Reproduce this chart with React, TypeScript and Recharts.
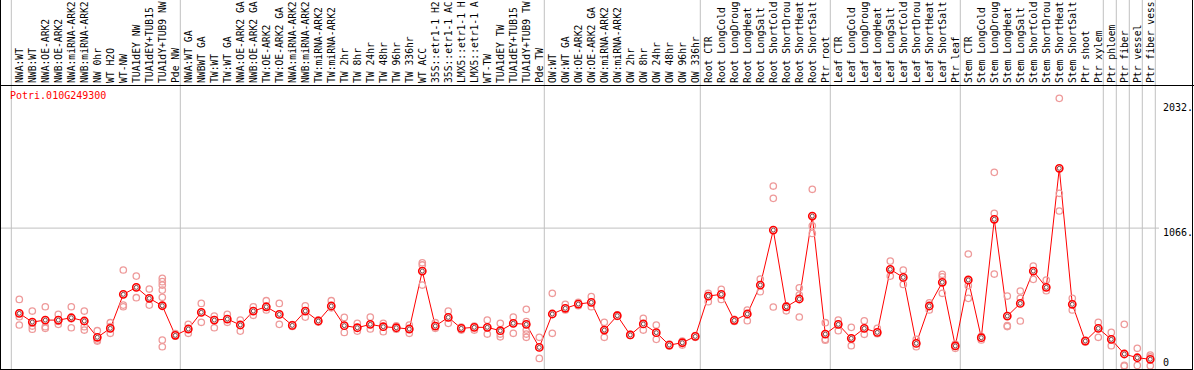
import { ComposedChart, Line, Scatter, XAxis, YAxis, ReferenceLine } from "recharts";

// sample labels, left to right
const categories = [
  "NWA:WT", "NWB:WT", "NWA:OE-ARK2", "NWB:OE-ARK2", "NWA:miRNA-ARK2", "NWB:miRNA-ARK2",
  "NW 0hr", "WT H2O", "WT-NW", "TUA1dEY NW", "TUA1dEY+TUB15 NW", "TUA1dY+TUB9 NW", "Pde NW",
  "NWA:WT GA", "NWBWT GA", "TW:WT", "TW:WT GA", "NWA:OE-ARK2 GA", "NWB:OE-ARK2 GA",
  "TW:OE-ARK2", "TW:OE-ARK2 GA", "NWA:miRNA-ARK2 GA", "NWB:miRNA-ARK2 GA", "TW:miRNA-ARK2",
  "TW:miRNA-ARK2 GA", "TW 2hr", "TW 8hr", "TW 24hr", "TW 48hr", "TW 96hr", "TW 336hr", "WT ACC",
  "35S::etr1-1 H2O", "35S::etr1-1 ACC", "LMX5::etr1-1 H2O", "LMX5::etr1-1 ACC", "WT-TW",
  "TUA1dEY TW", "TUA1dEY+TUB15 TW", "TUA1dY+TUB9 TW", "Pde TW",
  "OW:WT", "OW:WT GA", "OW:OE-ARK2", "OW:OE-ARK2 GA", "OW:miRNA-ARK2", "OW:miRNA-ARK2 GA",
  "OW 2hr", "OW 8hr", "OW 24hr", "OW 48hr", "OW 96hr", "OW 336hr",
  "Root CTR", "Root LongCold", "Root LongDrought", "Root LongHeat", "Root LongSalt",
  "Root ShortCold", "Root ShortDrought", "Root ShortHeat", "Root ShortSalt", "Ptr root",
  "Leaf CTR", "Leaf LongCold", "Leaf LongDrought", "Leaf LongHeat", "Leaf LongSalt",
  "Leaf ShortCold", "Leaf ShortDrought", "Leaf ShortHeat", "Leaf ShortSalt", "Ptr leaf",
  "Stem CTR", "Stem LongCold", "Stem LongDrought", "Stem LongHeat", "Stem LongSalt",
  "Stem ShortCold", "Stem ShortDrought", "Stem ShortHeat", "Stem ShortSalt", "Ptr shoot", "Ptr xylem",
  "Ptr phloem", "Ptr fiber", "Ptr vessel", "Ptr fiber vessel",
];

// first index of each experiment block (88 = end marker)
const groupStarts = [0, 13, 41, 53, 63, 73, 84, 85, 86, 87, 88];

// mean expression per sample
const means = [
  407, 340, 355, 355, 373, 348, 222, 291, 554, 608, 523, 466, 237,
  286, 415, 355, 363, 317, 425, 458, 399, 314, 425, 348, 464, 312, 296, 322, 304, 296, 286, 734,
  309, 376, 291, 299, 299, 273, 330, 322, 144,
  402, 446, 479, 492, 278, 389, 240, 325, 258, 162, 180, 229,
  541, 554, 353, 402, 626, 1051, 458, 518, 1159, 247,
  322, 214, 291, 260, 747, 685, 175, 464, 647, 155,
  665, 219, 1134, 386, 484, 734, 608, 1528, 477, 193, 291,
  206, 93, 64, 52,
];

// individual replicates per sample
const replicates = [
  [515, 381, 317], [425, 309, 285], [458, 304, 291], [399, 345, 322], [458, 365, 296],
  [425, 304, 278], [273, 201, 193], [335, 304, 253], [742, 471, 458], [695, 608, 528],
  [595, 523, 471], [678, 652, 626, 587, 531, 201, 149], [250, 237, 230],
  [322, 286, 253], [484, 415, 338], [386, 355, 296], [399, 363, 338], [355, 317, 270],
  [458, 425, 392], [505, 458, 433], [484, 399, 322], [320, 314, 306], [466, 425, 378],
  [355, 348, 340], [505, 464, 450], [376, 312, 260], [330, 296, 270], [378, 322, 286],
  [330, 304, 265], [310, 296, 285], [317, 286, 253], [798, 781, 626], [335, 309, 291],
  [425, 376, 330], [300, 291, 278], [309, 299, 278], [355, 299, 247], [330, 247, 226],
  [378, 330, 253], [438, 343, 322, 278, 247, 222], [222, 144, 59],
  [562, 402, 253], [477, 446, 433], [492, 479, 466], [536, 492, 458], [338, 278, 222],
  [395, 389, 383], [245, 240, 236], [368, 325, 278], [317, 258, 206], [170, 162, 155],
  [193, 180, 162], [235, 229, 222],
  [562, 541, 497], [593, 554, 515], [360, 353, 345], [433, 402, 350], [672, 626, 574],
  [1391, 1296, 456], [466, 458, 427], [605, 549, 379], [1366, 1084, 1025], [335, 206, 200],
  [355, 322, 273], [299, 214, 157], [350, 291, 245], [291, 260, 250], [811, 747, 695],
  [742, 685, 631], [206, 175, 149], [489, 464, 433], [709, 690, 562], [170, 155, 137],
  [866, 621, 523], [230, 219, 201], [1497, 1180, 711], [541, 312, 305], [580, 523, 348],
  [773, 734, 670], [665, 608, 582], [2069, 1335, 1198], [523, 477, 433], [200, 193, 186],
  [338, 291, 222],
  [260, 206, 157], [322, 5, 0], [137, 5], [85, 70, 2],
];

const yTicks = [0, 1066, 2032];

const meanPoints = means.map((v, i) => ({ i, v }));
const repPoints = replicates.flatMap((reps, i) => reps.map((v) => ({ i, v })));
const tickIdx = categories.map((_, i) => i);
const FONT = "'DejaVu Sans Mono', monospace";

// header only has room for 14 characters, the rest runs off the top
const SampleTick = ({ x, payload }: any) => (
  <text
    x={x}
    y={83}
    transform={`rotate(-90, ${x}, 83)`}
    textAnchor="start"
    dominantBaseline="central"
    fontFamily={FONT}
    fontSize={9.7}
    fill="#000"
  >
    {categories[payload.value].slice(0, 14).trimEnd()}
  </text>
);

const ValueTick = ({ y, payload }: any) => (
  <text
    x={1163}
    y={payload.value === 0 ? y - 4 : y + 4.5}
    dominantBaseline="central"
    fontFamily={FONT}
    fontSize={10}
    fill="#000"
  >
    {payload.value === 0 ? "0" : `${payload.value}.`}
  </text>
);

const RepDot = ({ cx, cy }: any) => (
  <circle cx={cx} cy={cy} r={3.2} fill="none" stroke="#ee9a9a" strokeWidth={1.3} />
);

const MeanDot = ({ cx, cy, index }: any) => (
  <g key={index}>
    <circle cx={cx} cy={cy} r={3.6} fill="#fff" stroke="#ff0000" strokeWidth={1.6} />
    <circle cx={cx} cy={cy} r={2} fill="none" stroke="#500000" strokeWidth={0.7} />
  </g>
);

export default function App() {
  return (
    <div style={{ position: "relative", width: 1194, height: 370, overflow: "hidden" }}>
      <style>{"body{margin:0}"}</style>
      <ComposedChart width={1194} height={370} margin={{ top: 0, right: 0, bottom: 1, left: 1 }}>
        <XAxis
          type="number"
          dataKey="i"
          orientation="top"
          height={85}
          domain={[-1.4077, 87.67]}
          ticks={tickIdx}
          interval={0}
          tick={SampleTick}
          tickLine={false}
          axisLine={false}
          allowDataOverflow
        />
        <YAxis
          orientation="right"
          width={35}
          domain={[-23, 2172]}
          ticks={yTicks}
          interval={0}
          tick={ValueTick}
          tickLine={false}
          axisLine={false}
          allowDataOverflow
        />
        <ReferenceLine y={1066} stroke="#c0c0c0" strokeWidth={1} />
        {groupStarts.map((g) => (
          <ReferenceLine
            key={g}
            segment={[
              { x: g - 8 / 13, y: -23 },
              { x: g - 8 / 13, y: 2830 },
            ]}
            ifOverflow="visible"
            stroke="#c0c0c0"
            strokeWidth={1}
          />
        ))}
        <Scatter data={repPoints} dataKey="v" shape={RepDot} isAnimationActive={false} />
        <Line
          data={meanPoints}
          dataKey="v"
          type="linear"
          stroke="#ff0000"
          strokeWidth={1}
          dot={MeanDot}
          activeDot={false}
          isAnimationActive={false}
        />
      </ComposedChart>
      {/* frame */}
      <div style={{ position: "absolute", left: 0, top: 0, width: 1, height: 370, background: "#000" }} />
      <div style={{ position: "absolute", left: 1192, top: 0, width: 1, height: 370, background: "#000" }} />
      <div style={{ position: "absolute", left: 0, top: 369, width: 1193, height: 1, background: "#000" }} />
      <div style={{ position: "absolute", left: 0, top: 85, width: 1194, height: 1, background: "#000" }} />
      <div
        style={{
          position: "absolute",
          left: 10,
          top: 90,
          fontFamily: FONT,
          fontSize: 10,
          lineHeight: "12px",
          color: "#ff0000",
        }}
      >
        Potri.010G249300
      </div>
    </div>
  );
}
